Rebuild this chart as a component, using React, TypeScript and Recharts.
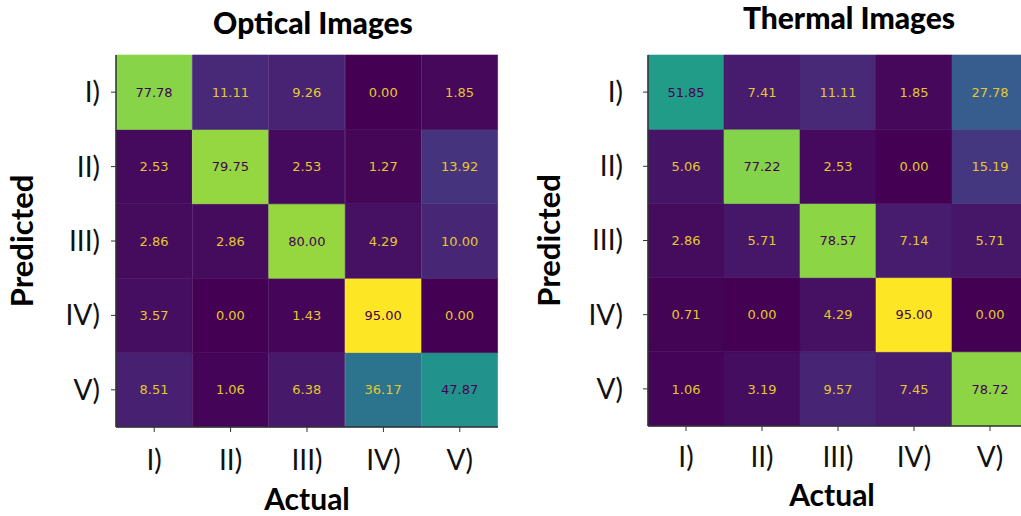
import React from 'react';
import { BarChart, Bar, XAxis, YAxis, Cell, LabelList } from 'recharts';

const classes = ['I)', 'II)', 'III)', 'IV)', 'V)'];

// rows = predicted class, columns = actual class (percent)
const opticalRows = [
  [77.78, 11.11, 9.26, 0.0, 1.85],
  [2.53, 79.75, 2.53, 1.27, 13.92],
  [2.86, 2.86, 80.0, 4.29, 10.0],
  [3.57, 0.0, 1.43, 95.0, 0.0],
  [8.51, 1.06, 6.38, 36.17, 47.87],
];

const thermalRows = [
  [51.85, 7.41, 11.11, 1.85, 27.78],
  [5.06, 77.22, 2.53, 0.0, 15.19],
  [2.86, 5.71, 78.57, 7.14, 5.71],
  [0.71, 0.0, 4.29, 95.0, 0.0],
  [1.06, 3.19, 9.57, 7.45, 78.72],
];

const VIRIDIS = [
  '#440154', '#482475', '#414487', '#355f8d', '#2a788e', '#21918c',
  '#22a884', '#44bf70', '#7ad151', '#bddf26', '#fde725',
];

function hexToRgb(h: string) {
  return [1, 3, 5].map((i) => parseInt(h.slice(i, i + 2), 16));
}

function viridis(t: number) {
  const x = Math.min(1, Math.max(0, t)) * (VIRIDIS.length - 1);
  const i = Math.min(VIRIDIS.length - 2, Math.floor(x));
  const f = x - i;
  const a = hexToRgb(VIRIDIS[i]);
  const b = hexToRgb(VIRIDIS[i + 1]);
  const c = a.map((v, k) => Math.round(v + (b[k] - v) * f));
  return `rgb(${c[0]},${c[1]},${c[2]})`;
}

const FONT = 'Lato, "Open Sans", sans-serif';

function buildTable(rows: number[][]) {
  return classes.map((c, j) => {
    const d: Record<string, any> = { actual: c };
    rows.forEach((r, i) => {
      d['v' + i] = r[j];
      d['h' + i] = 1;
    });
    return d;
  });
}

interface MatrixProps {
  rows: number[][];
  left: number;
  yAxisWidth: number;
  right: number;
  xAxisHeight: number;
  xTickMargin: number;
  yTickMargin: number;
  predictedOffset: number;
  actualOffset: number;
  actualDx: number;
}

function Matrix(p: MatrixProps) {
  const data = buildTable(p.rows);
  const flat = p.rows.flat();
  const vmin = Math.min(...flat);
  const vmax = Math.max(...flat);
  const mid = (vmin + vmax) / 2;
  const norm = (v: number) => (v - vmin) / (vmax - vmin);

  const renderLabel = (props: any) => {
    const { x, y, width, height, value } = props;
    return (
      <text
        x={x + width / 2}
        y={y + height / 2}
        dy="0.36em"
        textAnchor="middle"
        fontFamily="DejaVu Sans, sans-serif"
        fontSize={13}
        fill={value > mid ? '#440154' : '#e3c92e'}
      >
        {value.toFixed(2)}
      </text>
    );
  };

  const order = [4, 3, 2, 1, 0];

  return (
    <div style={{ position: 'absolute', left: p.left, top: 0 }}>
      <BarChart
        width={520}
        height={516}
        data={data}
        margin={{ top: 55, right: p.right, bottom: 0, left: 0 }}
        barCategoryGap={0}
        barGap={0}
      >
        <XAxis
          dataKey="actual"
          height={p.xAxisHeight}
          tickSize={5}
          tickMargin={p.xTickMargin}
          tick={{ fontSize: 28, fill: '#111', fontFamily: FONT }}
          axisLine={{ stroke: '#333', strokeWidth: 1.5 }}
          tickLine={{ stroke: '#333' }}
          label={{
            value: 'Actual',
            position: 'insideBottom',
            offset: p.actualOffset,
            dx: p.actualDx,
            style: { fontSize: 30, fontWeight: 700, fill: '#000', fontFamily: FONT },
          }}
        />
        <XAxis
          xAxisId="top"
          orientation="top"
          dataKey="actual"
          height={0}
          tick={false}
          tickLine={false}
          axisLine={{ stroke: '#333', strokeWidth: 1.5 }}
        />
        <YAxis
          type="number"
          domain={[0, 5]}
          ticks={[0.5, 1.5, 2.5, 3.5, 4.5]}
          tickFormatter={(v: number) => classes[4 - Math.floor(v)]}
          width={p.yAxisWidth}
          tickSize={5}
          tickMargin={p.yTickMargin}
          tick={{ fontSize: 28, fill: '#111', fontFamily: FONT }}
          axisLine={{ stroke: '#333', strokeWidth: 1.5 }}
          tickLine={{ stroke: '#333' }}
          label={{
            value: 'Predicted',
            angle: -90,
            position: 'insideLeft',
            offset: p.predictedOffset,
            style: { textAnchor: 'middle', fontSize: 31, fontWeight: 700, fill: '#000', fontFamily: FONT },
          }}
        />
        <YAxis
          yAxisId="r"
          orientation="right"
          type="number"
          domain={[0, 5]}
          width={0}
          tick={false}
          tickLine={false}
          axisLine={{ stroke: '#333', strokeWidth: 1.5 }}
        />
        {order.map((i) => (
          <Bar key={i} dataKey={'h' + i} stackId="m" isAnimationActive={false}>
            {data.map((d, j) => {
              const c = viridis(norm(d['v' + i]));
              return <Cell key={j} fill={c} stroke={c} strokeWidth={0.6} />;
            })}
            <LabelList dataKey={'v' + i} content={renderLabel} />
          </Bar>
        ))}
      </BarChart>
    </div>
  );
}

const titleStyle: React.CSSProperties = {
  position: 'absolute',
  width: 400,
  textAlign: 'center',
  fontFamily: FONT,
  fontWeight: 900,
  fontSize: 30,
  lineHeight: '34px',
  color: '#000',
};

export default function App() {
  return (
    <div
      style={{
        position: 'absolute',
        left: 0,
        top: 0,
        width: 1021,
        height: 516,
        overflow: 'hidden',
        background: '#fff',
      }}
    >
      <Matrix
        rows={opticalRows}
        left={0}
        yAxisWidth={116}
        right={22}
        xAxisHeight={89}
        xTickMargin={18}
        yTickMargin={11}
        predictedOffset={22}
        actualOffset={6}
        actualDx={0}
      />
      <Matrix
        rows={thermalRows}
        left={520}
        yAxisWidth={128}
        right={12}
        xAxisHeight={90}
        xTickMargin={16}
        yTickMargin={20}
        predictedOffset={29}
        actualOffset={10}
        actualDx={-6}
      />
      <div style={{ ...titleStyle, left: 313 - 200, top: 5 }}>Optical Images</div>
      <div style={{ ...titleStyle, left: 849 - 200, top: 0 }}>Thermal Images</div>
    </div>
  );
}
